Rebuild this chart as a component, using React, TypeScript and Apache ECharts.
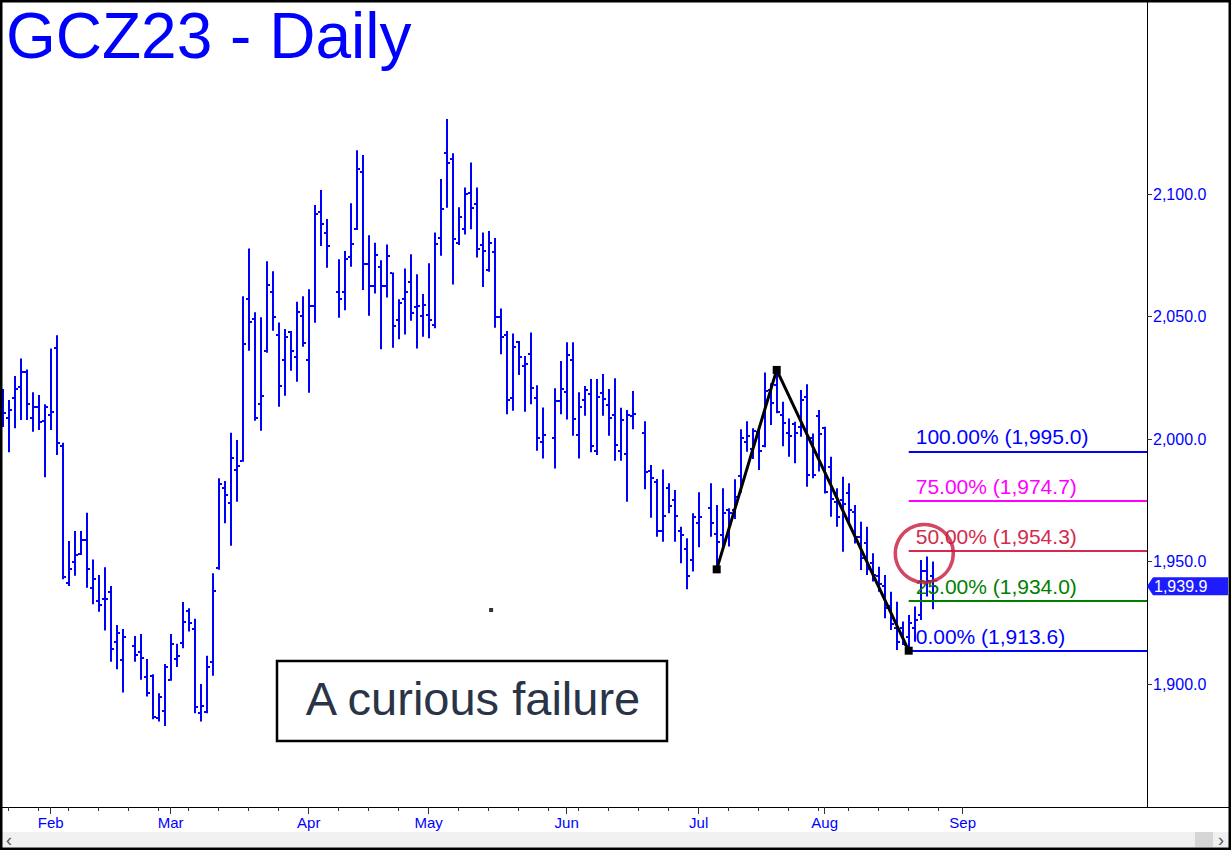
import React, { useEffect, useRef } from "react";
import * as echarts from "echarts";

const START_DATE = "2023-01-20";
const TOTAL_SLOTS = 191;
const LAST_TICK_SLOT = 160;
const MONTH_LABELS = ["Feb", "Mar", "Apr", "May", "Jun", "Jul", "Aug", "Sep"];
const PRICE_TICKS = [1900, 1950, 2000, 2050, 2100];
const FONT = "'Liberation Sans', Arial, Helvetica, sans-serif";

// Daily bars [open, high, low, close]; null = exchange holiday (weekday slot kept empty)
const jan = [
  [2013.9, 2020.4, 2004.9, 2010.6], [2008.4, 2015.9, 1994.6, 2011.8], [2016.6, 2025.7, 2004.4, 2020.4],
  [2021.3, 2032.9, 2007.8, 2027.5], [2027.5, 2028.4, 2007.8, 2014.3], [2008.4, 2019.1, 2003.0, 2012.9],
  [2012.9, 2018.0, 2003.7, 2007.1], [2007.5, 2014.2, 1984.4, 2012.9],
];
const feb = [
  [2009.8, 2037.0, 2003.7, 2011.1], [2037.0, 2042.4, 1993.5, 1998.2], [1997.1, 1998.5, 1942.8, 1943.8],
  [1941.1, 1958.4, 1940.0, 1947.0], [1949.7, 1962.5, 1944.2, 1952.7], [1953.0, 1962.5, 1952.7, 1958.8],
  [1958.8, 1969.9, 1939.3, 1947.0], [1939.1, 1950.8, 1932.6, 1942.9], [1933.9, 1944.5, 1929.5, 1932.3],
  [1934.6, 1947.7, 1921.8, 1934.6], [1937.7, 1940.0, 1909.1, 1914.2], [1917.1, 1924.1, 1906.0, 1920.7],
  [1909.8, 1922.5, 1896.5, 1919.1], null, [1915.5, 1919.6, 1909.1, 1911.9],
  [1913.2, 1920.4, 1901.7, 1910.5], [1903.0, 1910.2, 1894.9, 1896.2], [1903.3, 1904.0, 1885.6, 1886.4],
  [1886.3, 1896.2, 1884.7, 1894.9], [1889.0, 1908.2, 1882.9, 1907.1],
];
const mar = [
  [1901.7, 1920.4, 1901.3, 1916.4], [1910.1, 1916.4, 1906.9, 1911.5], [1916.6, 1933.5, 1914.6, 1925.5],
  [1929.9, 1930.9, 1921.4, 1924.8], [1922.5, 1926.6, 1888.1, 1890.8], [1888.1, 1900.0, 1884.7, 1891.1],
  [1888.7, 1911.5, 1888.1, 1906.9], [1908.9, 1945.2, 1903.4, 1938.0], [1947.2, 1984.0, 1946.6, 1981.5],
  [1979.9, 1982.9, 1965.6, 1977.2], [1974.0, 2002.6, 1956.4, 1992.1], [1987.4, 1999.6, 1974.4, 1989.0],
  [1991.0, 2058.3, 1990.7, 2038.6], [2057.0, 2077.8, 2036.0, 2047.6], [2049.0, 2051.7, 2007.5, 2008.4],
  [2014.3, 2049.7, 2003.4, 2017.5], [2036.0, 2072.6, 2035.2, 2062.8], [2060.1, 2068.5, 2044.2, 2049.7],
  [2042.3, 2047.6, 2013.2, 2021.6], [2032.2, 2044.9, 2017.7, 2041.5], [2043.5, 2044.1, 2027.9, 2035.9],
  [2033.3, 2056.0, 2023.4, 2051.7], [2050.2, 2058.3, 2037.7, 2039.0],
];
const apr = [
  [2032.2, 2061.1, 2018.9, 2054.3], [2054.4, 2095.5, 2047.5, 2091.8], [2092.5, 2101.6, 2078.8, 2087.8],
  [2083.9, 2089.8, 2069.9, 2078.8], null, [2059.9, 2073.4, 2049.5, 2057.1],
  [2059.9, 2076.7, 2052.6, 2073.4], [2074.4, 2096.2, 2070.3, 2079.8], [2085.7, 2117.9, 2085.3, 2110.4],
  [2108.8, 2115.9, 2060.8, 2071.3], [2071.3, 2083.2, 2050.3, 2062.4], [2062.4, 2080.1, 2059.4, 2075.1],
  [2070.3, 2073.0, 2036.6, 2062.4], [2062.4, 2079.4, 2057.8, 2074.7], [2067.6, 2068.0, 2037.3, 2046.1],
  [2048.6, 2057.1, 2040.7, 2055.6], [2057.0, 2069.6, 2042.7, 2060.1], [2063.9, 2075.4, 2048.3, 2051.5],
  [2053.7, 2067.3, 2037.0, 2054.3], [2050.2, 2059.2, 2041.7, 2054.7],
];
const may = [
  [2050.6, 2071.7, 2041.1, 2048.6], [2046.5, 2084.3, 2045.2, 2079.8], [2082.1, 2106.1, 2074.8, 2093.8],
  [2116.6, 2130.6, 2094.4, 2112.5], [2114.1, 2116.6, 2063.1, 2081.6], [2080.1, 2094.6, 2079.2, 2090.5],
  [2085.6, 2102.7, 2083.5, 2100.2], [2100.5, 2112.9, 2085.6, 2094.5], [2095.9, 2102.7, 2074.1, 2077.4],
  [2079.2, 2084.3, 2062.1, 2076.7], [2069.0, 2084.9, 2068.3, 2080.1], [2076.4, 2082.1, 2045.4, 2049.7],
  [2049.7, 2053.3, 2034.6, 2041.5], [2042.4, 2044.1, 2010.1, 2015.9], [2016.6, 2043.1, 2011.5, 2037.4],
  [2039.5, 2040.0, 2026.1, 2033.3], [2029.8, 2033.9, 2011.1, 2030.6], [2034.7, 2043.5, 2014.2, 2020.7],
  [2016.6, 2022.0, 1995.2, 2000.3], [1998.9, 2012.9, 1992.1, 2001.6], null,
  [2000.3, 2020.7, 1988.0, 2015.5], [2015.5, 2031.8, 2010.1, 2020.4],
];
const jun = [
  [2019.1, 2039.5, 2008.0, 2034.3], [2032.2, 2039.5, 2001.3, 2008.2], [2001.6, 2019.1, 1992.1, 2012.9],
  [2015.9, 2021.6, 2009.5, 2020.0], [2018.4, 2024.5, 1994.6, 1997.1], [1995.2, 2024.5, 1993.5, 2017.0],
  [2018.6, 2026.5, 2009.5, 2016.3], [2013.9, 2020.4, 2001.3, 2008.4], [2009.8, 2024.8, 1991.1, 1997.6],
  [1995.2, 2012.8, 1991.1, 2007.8], [1993.8, 2011.8, 1974.4, 2009.8], [2009.4, 2019.6, 2004.0, 2010.2],
  null, [2002.6, 2007.3, 1979.5, 1986.4], [1987.1, 1989.4, 1967.9, 1984.2],
  [1982.6, 1983.7, 1960.1, 1962.5], [1962.5, 1987.6, 1958.1, 1968.6], [1980.1, 1981.9, 1969.7, 1972.8],
  [1975.0, 1979.2, 1958.1, 1968.6], [1962.5, 1964.2, 1949.3, 1960.8], [1955.0, 1959.5, 1938.7, 1944.0],
  [1950.6, 1969.7, 1945.9, 1968.3],
];
const jul = [
  [1965.6, 1978.3, 1955.8, 1968.3], null, [1972.0, 1981.9, 1960.1, 1965.9],
  [1961.4, 1973.1, 1946.8, 1958.0], [1961.0, 1979.9, 1955.0, 1969.7], [1971.0, 1971.7, 1956.1, 1969.7],
  [1971.0, 1983.6, 1967.4, 1976.5], [1985.0, 2004.0, 1978.1, 2000.3], [1998.9, 2007.3, 1994.8, 2001.3],
  [1995.9, 2004.4, 1991.8, 2003.4], [2003.0, 2003.7, 1987.4, 1995.1], [1997.3, 2027.2, 1996.6, 2019.6],
  [2020.0, 2022.8, 2005.7, 2014.6], [2022.0, 2028.2, 2010.5, 2011.0], [2009.8, 2015.2, 1997.1, 2006.7],
  [2002.3, 2008.4, 1992.8, 2001.2], [2006.1, 2007.1, 1990.1, 2002.6], [2004.8, 2020.0, 2000.9, 2016.0],
  [2017.1, 2022.4, 1980.5, 1985.3], [2000.4, 2002.3, 1984.0, 1985.3], [2009.2, 2011.8, 1986.7, 2002.0],
];
const aug = [
  [2004.4, 2005.0, 1977.8, 1978.5], [1988.7, 1992.8, 1968.3, 1975.5], [1974.2, 1979.9, 1964.2, 1968.0],
  [1975.3, 1984.6, 1954.0, 1973.3], [1977.8, 1981.9, 1965.6, 1970.9], [1970.3, 1973.1, 1957.4, 1960.0],
  [1960.0, 1966.2, 1946.5, 1951.6], [1957.5, 1964.2, 1944.5, 1947.0], [1949.4, 1953.4, 1941.8, 1944.7],
  [1944.0, 1947.9, 1937.7, 1940.8], [1940.0, 1944.5, 1926.8, 1931.0], [1932.0, 1937.7, 1922.0, 1924.5],
  [1922.9, 1933.6, 1913.9, 1917.3], [1923.0, 1925.5, 1915.9, 1916.0], [1919.0, 1928.2, 1913.6, 1925.0],
  [1923.0, 1931.6, 1917.3, 1926.0], [1928.0, 1950.6, 1926.1, 1946.0], [1946.0, 1952.0, 1935.7, 1942.0],
  [1944.0, 1950.0, 1930.5, 1939.9],
];

// Swing points (slot index, price): A (Jul 6 low), B (Jul 20 high), C (Aug 21 low)
const swingPoints = [[119, 1946.8], [129, 2028.2], [151, 1913.6]];
const fibPct = ["100.00%", "75.00%", "50.00%", "25.00%", "0.00%"];
const fibValues = [1995.0, 1974.7, 1954.3, 1934.0, 1913.6];
const fibColors = ["#0000ff", "#ff00ff", "#d42a4c", "#008000", "#0000ff"];
const lastPrice = 1939.9;
const circleMark = [153.6, 1953.3];
const strayDot = [81.4, 1930.2];

const fmt = (v: number) =>
  v.toLocaleString("en-US", { minimumFractionDigits: 1, maximumFractionDigits: 1 });

function buildSlots() {
  const out: Date[] = [];
  let t = Date.parse(START_DATE + "T00:00:00Z");
  while (out.length < TOTAL_SLOTS) {
    const d = new Date(t);
    const wd = d.getUTCDay();
    if (wd !== 0 && wd !== 6) out.push(d);
    t += 86400000;
  }
  return out;
}

export default function App() {
  const ref = useRef<HTMLDivElement>(null);

  useEffect(() => {
    if (!ref.current) return;
    const chart = echarts.init(ref.current, null, { renderer: "svg" });

    const bars = [...jan, ...feb, ...mar, ...apr, ...may, ...jun, ...jul, ...aug];
    const ohlcData: number[][] = [];
    bars.forEach((b, i) => {
      if (b) ohlcData.push([i, b[0], b[1], b[2], b[3]]);
    });

    const slots = buildSlots();
    const monthSlots: number[] = [];
    const monthNameAt: Record<number, string> = {};
    let mi = 0;
    for (let i = 1; i <= LAST_TICK_SLOT; i++) {
      if (slots[i].getUTCMonth() !== slots[i - 1].getUTCMonth() && mi < MONTH_LABELS.length) {
        monthSlots.push(i);
        monthNameAt[i] = MONTH_LABELS[mi++];
      }
    }
    const mondaySlots: number[] = [];
    for (let i = 0; i <= LAST_TICK_SLOT; i++) if (slots[i].getUTCDay() === 1) mondaySlots.push(i);

    const gridW = 1147;
    const xMin = -0.45;
    const xMax = xMin + gridW / 6;

    const fibLines = fibValues.map((v, i) => [
      {
        coord: [swingPoints[2][0], v],
        lineStyle: { color: fibColors[i], width: 2, type: "solid" },
        label: {
          show: true,
          position: "insideStartTop",
          formatter: `${fibPct[i]} (${fmt(v)})`,
          color: fibColors[i],
          fontSize: 21,
          fontFamily: FONT,
          distance: [7, 4],
        },
      },
      { coord: [xMax, v] },
    ]);

    const axisCommon = {
      type: "value",
      min: xMin,
      max: xMax,
      splitLine: { show: false },
      position: "bottom",
    };

    chart.setOption({
      animation: false,
      grid: { left: 0, right: 1231 - gridW, top: 0, bottom: 850 - 807, containLabel: false },
      xAxis: [
        {
          ...axisCommon,
          axisLine: { show: true, onZero: false, lineStyle: { color: "#000", width: 1 } },
          axisTick: { show: true, length: 7, customValues: monthSlots, lineStyle: { color: "#333" } },
          axisLabel: {
            show: true,
            customValues: monthSlots,
            formatter: (v: number) => monthNameAt[Math.round(v)] || "",
            color: "#0000ff",
            fontSize: 15,
            fontFamily: FONT,
            margin: 8,
          },
        },
        {
          ...axisCommon,
          axisLine: { show: false, onZero: false },
          axisTick: { show: true, length: 4, customValues: mondaySlots, lineStyle: { color: "#333" } },
          axisLabel: { show: false },
        },
      ],
      yAxis: {
        type: "value",
        position: "right",
        min: 1849.8,
        max: 2179.2,
        splitLine: { show: false },
        axisLine: { show: true, onZero: false, lineStyle: { color: "#000", width: 1 } },
        axisTick: { show: true, length: 5, customValues: PRICE_TICKS, lineStyle: { color: "#333" } },
        axisLabel: {
          show: true,
          customValues: PRICE_TICKS,
          formatter: (v: number) => fmt(v),
          color: "#0000ff",
          fontSize: 16,
          fontFamily: FONT,
          margin: 6,
          align: "left",
        },
      },
      series: [
        {
          type: "custom",
          name: "GCZ23",
          data: ohlcData,
          encode: { x: 0, y: [1, 2, 3, 4] },
          renderItem: (params: any, api: any) => {
            const x = api.value(0);
            const pH = api.coord([x, api.value(2)]);
            const pL = api.coord([x, api.value(3)]);
            const pO = api.coord([x, api.value(1)]);
            const pC = api.coord([x, api.value(4)]);
            const cx = Math.round(pH[0]);
            const fill = "#0000ff";
            return {
              type: "group",
              children: [
                { type: "rect", shape: { x: cx - 1, y: pH[1], width: 2, height: Math.max(1, pL[1] - pH[1]) }, style: { fill } },
                { type: "rect", shape: { x: cx - 3, y: Math.round(pO[1]) - 1, width: 2, height: 2 }, style: { fill } },
                { type: "rect", shape: { x: cx + 1, y: Math.round(pC[1]) - 1, width: 2, height: 2 }, style: { fill } },
              ],
            };
          },
          z: 2,
        },
        {
          type: "line",
          name: "swing",
          data: swingPoints,
          symbol: "rect",
          symbolSize: 8,
          itemStyle: { color: "#000" },
          lineStyle: { color: "#000", width: 3 },
          z: 5,
          markLine: {
            silent: true,
            symbol: ["none", "none"],
            animation: false,
            data: fibLines,
          },
        },
        {
          type: "scatter",
          name: "circle",
          data: [circleMark],
          symbol: "circle",
          symbolSize: 58,
          itemStyle: { color: "rgba(0,0,0,0)", borderColor: "#c8193c", borderWidth: 3.5 },
          z: 6,
        },
        {
          type: "scatter",
          name: "dot",
          data: [strayDot],
          symbol: "rect",
          symbolSize: 4,
          itemStyle: { color: "#000" },
          z: 6,
        },
      ],
    });

    const yLast = chart.convertToPixel({ yAxisIndex: 0 }, lastPrice) as number;

    chart.setOption({
      graphic: [
        {
          type: "text",
          left: 6,
          top: 4,
          style: { text: "GCZ23 - Daily", fill: "#0000ff", fontSize: 64, fontFamily: FONT },
        },
        {
          type: "rect",
          shape: { x: 277, y: 661, width: 390, height: 80 },
          style: { fill: "#fff", stroke: "#000", lineWidth: 2.5 },
          z: 10,
        },
        {
          type: "text",
          x: 473,
          y: 698,
          style: {
            text: "A curious failure",
            fill: "#2a3447",
            fontSize: 47,
            fontFamily: FONT,
            align: "center",
            verticalAlign: "middle",
          },
          z: 11,
        },
        {
          type: "polygon",
          shape: {
            points: [
              [1147, yLast],
              [1153, yLast - 9],
              [1228, yLast - 9],
              [1228, yLast + 9],
              [1153, yLast + 9],
            ],
          },
          style: { fill: "#1c1cff" },
          z: 10,
        },
        {
          type: "text",
          x: 1154,
          y: yLast,
          style: {
            text: fmt(lastPrice),
            fill: "#fff",
            fontSize: 16,
            fontFamily: FONT,
            verticalAlign: "middle",
          },
          z: 11,
        },
        {
          type: "line",
          shape: { x1: 1147, y1: 807.5, x2: 1231, y2: 807.5 },
          style: { stroke: "#000", lineWidth: 1 },
        },
        {
          type: "rect",
          shape: { x: 2, y: 832, width: 1227, height: 15 },
          style: { fill: "#f0f0f0" },
        },
        {
          type: "rect",
          shape: { x: 1195, y: 832, width: 18, height: 15 },
          style: { fill: "#d6d6d6" },
        },
        {
          type: "text",
          x: 9,
          y: 839.5,
          style: { text: "‹", fill: "#555", fontSize: 18, fontFamily: FONT, align: "center", verticalAlign: "middle" },
        },
        {
          type: "text",
          x: 1221,
          y: 839.5,
          style: { text: "›", fill: "#555", fontSize: 18, fontFamily: FONT, align: "center", verticalAlign: "middle" },
        },
        {
          type: "rect",
          shape: { x: 1.25, y: 1.25, width: 1228.5, height: 847.5 },
          style: { fill: "none", stroke: "#000", lineWidth: 2.5 },
          z: 20,
        },
      ],
    });

    return () => chart.dispose();
  }, []);

  return (
    <div
      ref={ref}
      style={{ position: "absolute", left: 0, top: 0, width: 1231, height: 850, background: "#fff" }}
    />
  );
}
